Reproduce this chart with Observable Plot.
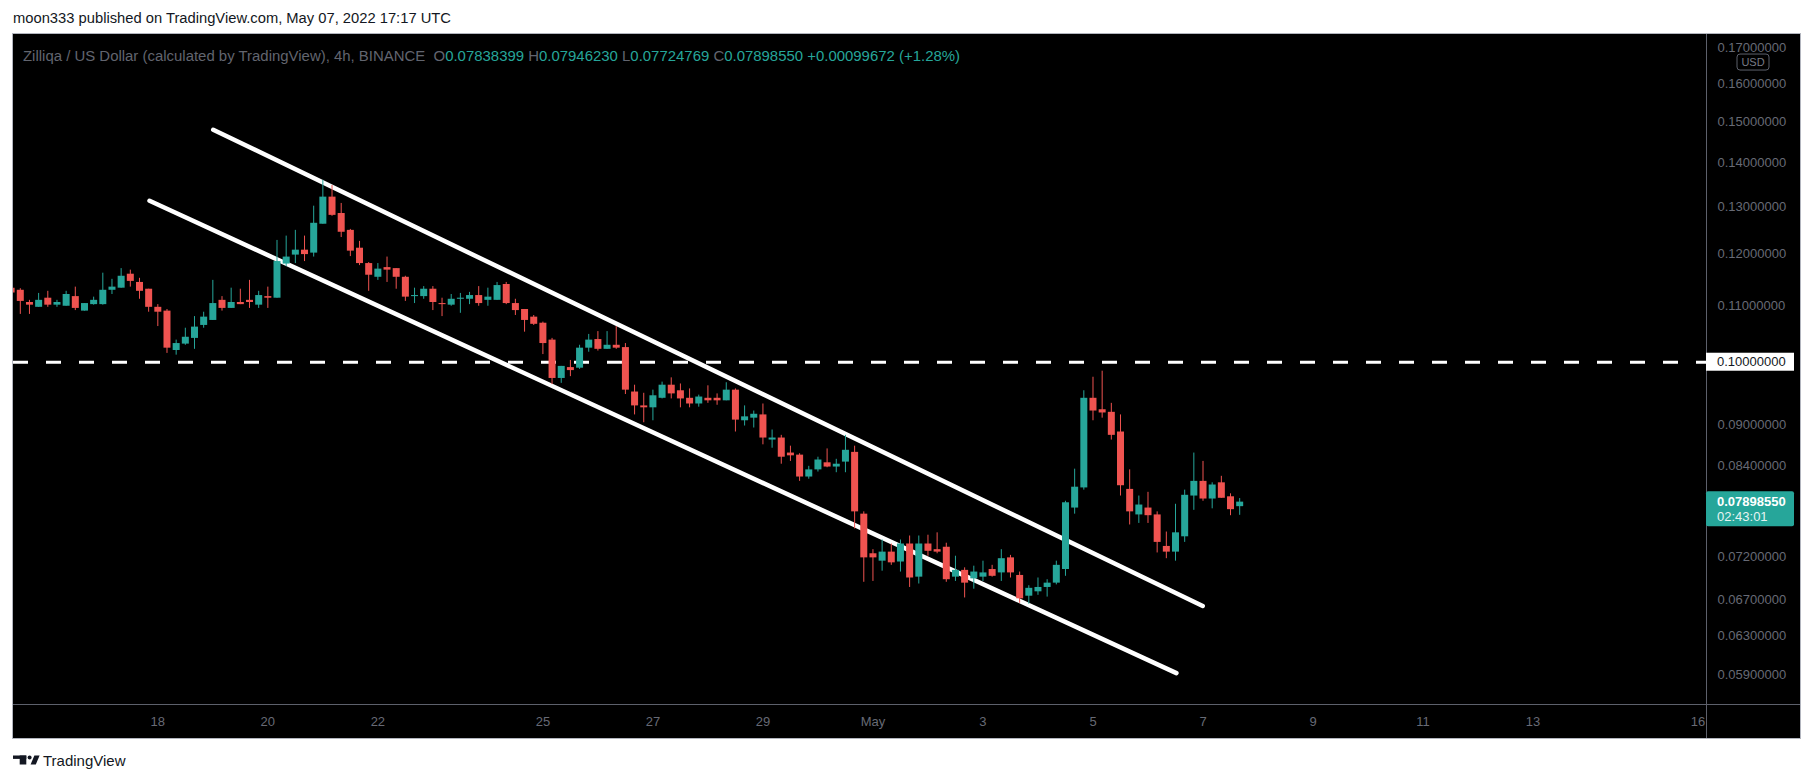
<!DOCTYPE html>
<html>
<head>
<meta charset="utf-8">
<script src="https://cdn.jsdelivr.net/npm/d3@7"></script>
<script src="https://cdn.jsdelivr.net/npm/@observablehq/plot@0.6"></script>
<style>
  html, body { margin: 0; padding: 0; background: #ffffff; }
  #page { position: relative; width: 1813px; height: 783px; overflow: hidden; font-family: "Liberation Sans", Arial, sans-serif; }
  #header { position: absolute; left: 13px; top: 9px; font-size: 14px; line-height: 18px; color: #131722; white-space: nowrap; transform-origin: 0 0; }
  #panel { position: absolute; left: 12px; top: 33px; width: 1789px; height: 706px; border: 1px solid #b2b5be; box-sizing: border-box; background: #000; overflow: hidden; }
  #chart { position: absolute; left: 0; top: 0; }
  #legend { position: absolute; left: 10px; top: 13px; font-size: 14px; line-height: 18px; color: #62656f; white-space: nowrap; transform-origin: 0 0; }
  #legend .v { color: #26a69a; }
  #footer { position: absolute; left: 13px; top: 751px; height: 18px; display: flex; align-items: center; }
  #footer span { font-size: 15px; color: #131722; margin-left: 3px; }
</style>
</head>
<body>
<div id="page">
  <div id="header">moon333 published on TradingView.com, May 07, 2022 17:17 UTC</div>
  <div id="panel">
    <div id="chart"></div>
    <div id="legend"></div>
  </div>
  <div id="footer">
    <svg width="27" height="10" viewBox="0 0 27 10">
      <rect x="0" y="0.5" width="13.3" height="3.4" fill="#131722"></rect>
      <rect x="6.7" y="0.5" width="6.6" height="9" fill="#131722"></rect>
      <circle cx="16.6" cy="2.4" r="2" fill="#131722"></circle>
      <polygon points="21.4,0.5 26.6,0.5 22.8,9.5 17.6,9.5" fill="#131722"></polygon>
    </svg>
    <span>TradingView</span>
  </div>
</div>
<script>
// ---------- data ----------
const symbolTitle = "Zilliqa / US Dollar (calculated by TradingView), 4h, BINANCE";
const firstBarUTC = Date.UTC(2022, 3, 15, 8); // 15 Apr 2022 08:00 UTC
const barHours = 4;

const opens = [
  0.1133,0.1129,0.1106,0.1097,0.1114,0.1101,0.1099,0.1117,0.1090,0.1102,
  0.1102,0.1129,0.1133,0.1160,0.1144,0.1131,0.1097,0.1090,0.1020,0.1031,
  0.1041,0.1064,0.1073,0.1110,0.1095,0.1106,0.1110,0.1101,0.1117,0.1114,
  0.1180,0.1198,0.1208,0.1202,0.1262,0.1321,0.1285,0.1249,0.1212,0.1181,
  0.1154,0.1173,0.1171,0.1154,0.1117,0.1117,0.1131,0.1104,0.1101,0.1112,
  0.1112,0.1119,0.1110,0.1110,0.1140,0.1104,0.1093,0.1079,0.1068,0.1038,
  0.0973,0.0991,0.0990,0.1024,0.1039,0.1022,0.1029,0.1025,0.0951,0.0929,
  0.0926,0.0941,0.0962,0.0953,0.0941,0.0932,0.0941,0.0941,0.0937,0.0954,
  0.0906,0.0910,0.0915,0.0877,0.0880,0.0858,0.0855,0.0824,0.0834,0.0844,
  0.0838,0.0845,0.0859,0.0774,0.0724,0.0715,0.0726,0.0714,0.0736,0.0696,
  0.0736,0.0729,0.0732,0.0696,0.0704,0.0694,0.0696,0.0705,0.0701,0.0719,
  0.0698,0.0674,0.0679,0.0684,0.0689,0.0705,0.0782,0.0809,0.0941,0.0923,
  0.0919,0.0889,0.0807,0.0773,0.0782,0.0773,0.0733,0.0726,0.0745,0.0798,
  0.0818,0.0794,0.0816,0.0797,0.07838399
];
const highs = [
  0.1136,0.1132,0.1110,0.1123,0.1127,0.1110,0.1127,0.1135,0.1104,0.1116,
  0.1162,0.1150,0.1171,0.1168,0.1152,0.1131,0.1102,0.1093,0.1038,0.1059,
  0.1080,0.1088,0.1148,0.1117,0.1133,0.1131,0.1148,0.1127,0.1135,0.1228,
  0.1237,0.1249,0.1237,0.1301,0.1359,0.1347,0.1307,0.1251,0.1226,0.1183,
  0.1181,0.1194,0.1171,0.1156,0.1133,0.1136,0.1136,0.1114,0.1121,0.1123,
  0.1125,0.1136,0.1133,0.1144,0.1144,0.1112,0.1093,0.1082,0.1070,0.1041,
  0.0993,0.1003,0.1029,0.1048,0.1053,0.1053,0.1062,0.1032,0.0962,0.0949,
  0.0954,0.0967,0.0974,0.0964,0.0956,0.0946,0.0961,0.0948,0.0966,0.0956,
  0.0929,0.0921,0.0932,0.0892,0.0884,0.0868,0.0857,0.0839,0.0852,0.0864,
  0.0849,0.0884,0.0868,0.0777,0.0729,0.0741,0.0736,0.0741,0.0746,0.0746,
  0.0747,0.0750,0.0737,0.0721,0.0707,0.0709,0.0715,0.0710,0.0729,0.0722,
  0.0702,0.0686,0.0695,0.0693,0.0715,0.0791,0.0835,0.0953,0.0975,0.0985,
  0.0933,0.0915,0.0834,0.0798,0.0803,0.0777,0.0751,0.0787,0.0806,0.0858,
  0.0846,0.0816,0.0825,0.0801,0.07946230
];
const lows = [
  0.1120,0.1084,0.1084,0.1097,0.1097,0.1097,0.1099,0.1091,0.1090,0.1101,
  0.1101,0.1121,0.1133,0.1135,0.1112,0.1088,0.1062,0.1015,0.1012,0.1029,
  0.1022,0.1059,0.1073,0.1090,0.1095,0.1102,0.1095,0.1095,0.1095,0.1114,
  0.1175,0.1181,0.1185,0.1194,0.1262,0.1279,0.1234,0.1195,0.1177,0.1127,
  0.1148,0.1144,0.1131,0.1108,0.1104,0.1112,0.1091,0.1080,0.1099,0.1086,
  0.1102,0.1099,0.1099,0.1110,0.1102,0.1082,0.1052,0.1064,0.1013,0.0963,
  0.0965,0.0976,0.0988,0.1017,0.1019,0.1022,0.1022,0.0947,0.0915,0.0903,
  0.0906,0.0940,0.0940,0.0926,0.0926,0.0927,0.0933,0.0930,0.0937,0.0889,
  0.0898,0.0895,0.0870,0.0865,0.0842,0.0846,0.0818,0.0821,0.0831,0.0837,
  0.0830,0.0830,0.0755,0.0690,0.0691,0.0703,0.0710,0.0702,0.0684,0.0688,
  0.0721,0.0724,0.0690,0.0691,0.0672,0.0682,0.0691,0.0696,0.0691,0.0695,
  0.0666,0.0665,0.0675,0.0673,0.0687,0.0697,0.0774,0.0806,0.0906,0.0910,
  0.0877,0.0798,0.0760,0.0762,0.0762,0.0725,0.0718,0.0715,0.0738,0.0779,
  0.0791,0.0781,0.0795,0.0772,0.07724769
];
const closes = [
  0.1124,0.1108,0.1101,0.1110,0.1101,0.1106,0.1121,0.1095,0.1104,0.1110,
  0.1129,0.1135,0.1156,0.1146,0.1127,0.1097,0.1088,0.1024,0.1032,0.1043,
  0.1061,0.1079,0.1104,0.1095,0.1106,0.1102,0.1106,0.1119,0.1114,0.1185,
  0.1194,0.1208,0.1199,0.1264,0.1321,0.1281,0.1245,0.1206,0.1181,0.1158,
  0.1170,0.1168,0.1154,0.1116,0.1119,0.1131,0.1106,0.1102,0.1112,0.1114,
  0.1119,0.1104,0.1116,0.1138,0.1104,0.1091,0.1073,0.1066,0.1032,0.0973,
  0.0993,0.0986,0.1024,0.1038,0.1022,0.1029,0.1024,0.0954,0.0929,0.0926,
  0.0945,0.0962,0.0948,0.0940,0.0932,0.0943,0.0937,0.0937,0.0954,0.0907,
  0.0912,0.0916,0.0880,0.0880,0.0852,0.0854,0.0824,0.0834,0.0848,0.0838,
  0.0842,0.0862,0.0777,0.0719,0.0719,0.0726,0.0713,0.0736,0.0695,0.0736,
  0.0727,0.0726,0.0693,0.0704,0.0689,0.0702,0.0701,0.0697,0.0718,0.0701,
  0.0671,0.0683,0.0684,0.0689,0.0710,0.0789,0.0810,0.0941,0.0921,0.0918,
  0.0884,0.0812,0.0777,0.0786,0.0772,0.0738,0.0726,0.0750,0.0799,0.0818,
  0.0794,0.0813,0.0795,0.07798878,0.07898550
];

// channel trend lines (drawn by the author): two points each
const upperLineDates = [Date.UTC(2022, 3, 19, 0, 10), Date.UTC(2022, 4, 6, 23, 53)];
const upperLinePrices = [0.1480, 0.0663];
const lowerLineDates = [Date.UTC(2022, 3, 17, 20, 23), Date.UTC(2022, 4, 6, 12, 24)];
const lowerLinePrices = [0.1313, 0.0592];
const levelPrice = 0.10;

// axes
const xDomain = [Date.UTC(2022, 3, 15, 9, 2), Date.UTC(2022, 4, 16, 3, 40)];
const yDomain = [0.05615, 0.17378];
const xTickDates = [
  Date.UTC(2022,3,18), Date.UTC(2022,3,20), Date.UTC(2022,3,22), Date.UTC(2022,3,25),
  Date.UTC(2022,3,27), Date.UTC(2022,3,29), Date.UTC(2022,4,1), Date.UTC(2022,4,3),
  Date.UTC(2022,4,5), Date.UTC(2022,4,7), Date.UTC(2022,4,9), Date.UTC(2022,4,11),
  Date.UTC(2022,4,13), Date.UTC(2022,4,16)
];
const xTickLabels = ["18","20","22","25","27","29","May","3","5","7","9","11","13","16"];
const yTicks = [0.17, 0.16, 0.15, 0.14, 0.13, 0.12, 0.11, 0.09, 0.084, 0.072, 0.067, 0.063, 0.059];
const countdown = "02:43:01";
const currencyLabel = "USD";

// ---------- build ----------
const UP = "#26a69a", DOWN = "#ef5350";
const candles = opens.map((o, i) => ({
  date: new Date(firstBarUTC + i * barHours * 3600e3),
  open: o, high: highs[i], low: lows[i], close: closes[i],
  color: closes[i] >= o ? UP : DOWN
}));
const upperLine = upperLineDates.map((d, i) => ({date: new Date(d), price: upperLinePrices[i]}));
const lowerLine = lowerLineDates.map((d, i) => ({date: new Date(d), price: lowerLinePrices[i]}));
const tickLabel = new Map(xTickDates.map((d, i) => [d, xTickLabels[i]]));

const W = 1787, H = 704, MR = 94, MB = 34;
const fmt8 = d3.format(".8f");

const plot = Plot.plot({
  width: W, height: H,
  marginLeft: 0, marginRight: MR, marginTop: 0, marginBottom: MB,
  style: {background: "#000", color: "#676a75", fontFamily: "'Liberation Sans', Arial, sans-serif", fontSize: "13px", overflow: "hidden"},
  color: {type: "identity"},
  x: {type: "utc", domain: xDomain.map(d => new Date(d)), ticks: xTickDates.map(d => new Date(d)),
      tickFormat: d => tickLabel.get(+d), tickSize: 0, tickPadding: 12, label: null},
  y: {type: "log", domain: yDomain, axis: "right", ticks: yTicks, tickFormat: fmt8,
      tickSize: 0, tickPadding: 11, label: null},
  marks: [
    Plot.ruleY([levelPrice], {stroke: "#ffffff", strokeWidth: 3, strokeDasharray: "15,18"}),
    Plot.line(upperLine, {x: "date", y: "price", stroke: "#ffffff", strokeWidth: 4.5, strokeLinecap: "round"}),
    Plot.line(lowerLine, {x: "date", y: "price", stroke: "#ffffff", strokeWidth: 4.5, strokeLinecap: "round"}),
    Plot.ruleX(candles, {x: "date", y1: "low", y2: "high", stroke: "color", strokeWidth: 1}),
    Plot.ruleX(candles, {x: "date", y1: "open", y2: "close", stroke: "color", strokeWidth: 7})
  ]
});
document.getElementById("chart").appendChild(plot);

// separators and price-scale labels
const svg = d3.select(plot);
const ys = plot.scale("y");
const g = svg.append("g").attr("text-anchor", "start");
g.append("line").attr("x1", W - MR + 0.5).attr("x2", W - MR + 0.5).attr("y1", 0).attr("y2", H)
  .attr("stroke", "#5d606b").attr("stroke-width", 1);
g.append("line").attr("x1", 0).attr("x2", W).attr("y1", H - MB + 0.5).attr("y2", H - MB + 0.5)
  .attr("stroke", "#5d606b").attr("stroke-width", 1);

// USD badge (just under the top price label)
const usdY = ys.apply(yTicks[0]);
g.append("rect").attr("x", W - MR + 31).attr("y", usdY + 7).attr("width", 32).attr("height", 16)
  .attr("rx", 3).attr("fill", "#000").attr("stroke", "#5d606b");
g.append("text").attr("x", W - MR + 47).attr("y", usdY + 15).attr("dy", "0.35em").attr("text-anchor", "middle")
  .attr("font-size", 11).attr("fill", "#787b86").text(currencyLabel);

// level label
const yl = ys.apply(levelPrice);
g.append("rect").attr("x", W - MR).attr("y", yl - 9).attr("width", 88).attr("height", 18).attr("fill", "#ffffff");
g.append("text").attr("x", W - MR + 11).attr("y", yl).attr("dy", "0.35em").attr("fill", "#131722").text(fmt8(levelPrice));

// last price label
const last = candles[candles.length - 1];
const prev = candles[candles.length - 2];
const yc = ys.apply(last.close);
g.append("rect").attr("x", W - MR).attr("y", yc - 10.5).attr("width", 88).attr("height", 35).attr("rx", 2).attr("fill", UP);
g.append("text").attr("x", W - MR + 11).attr("y", yc).attr("dy", "0.35em").attr("fill", "#ffffff")
  .attr("font-weight", "bold").text(last.close.toFixed(8));
g.append("text").attr("x", W - MR + 11).attr("y", yc + 15).attr("dy", "0.35em").attr("fill", "#e6f4f2").text(countdown);

// legend
const chg = last.close - prev.close;
const pct = chg / prev.close * 100;
const sign = chg >= 0 ? "+" : "";
document.getElementById("legend").innerHTML =
  symbolTitle + "&nbsp; O<span class='v'>" + last.open.toFixed(8) + "</span> H<span class='v'>" + last.high.toFixed(8) +
  "</span> L<span class='v'>" + last.low.toFixed(8) + "</span> C<span class='v'>" + last.close.toFixed(8) +
  "</span> <span class='v'>" + sign + chg.toFixed(8) + " (" + sign + pct.toFixed(2) + "%)</span>";

function fitWidth(id, target) {
  const el = document.getElementById(id);
  const w = el.getBoundingClientRect().width;
  if (w > 0) el.style.transform = "scaleX(" + (target / w) + ")";
}
fitWidth("header", 438);
fitWidth("legend", 937);
</script>
</body>
</html>
